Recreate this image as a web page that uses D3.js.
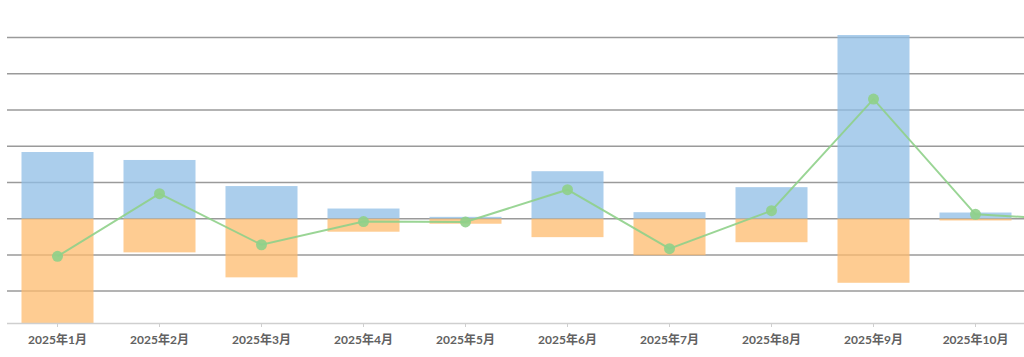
<!DOCTYPE html>
<html><head><meta charset="utf-8">
<script src="https://cdn.jsdelivr.net/npm/d3@7"></script>
<style>html,body{margin:0;padding:0;background:#fff;overflow:hidden}</style>
</head><body>
<svg id="c" width="1024" height="357"></svg>
<script>
const categories = ["2025年1月","2025年2月","2025年3月","2025年4月","2025年5月","2025年6月","2025年7月","2025年8月","2025年9月","2025年10月","2025年11月"];
const visibleLabels = ["2025年1月","2025年2月","2025年3月","2025年4月","2025年5月","2025年6月","2025年7月","2025年8月","2025年9月","2025年10月"];
const positiveValues = [184, 162, 90, 28, 5, 131, 18, 87, 507, 17, 3];
const negativeValues = [-288, -93, -162, -36, -14, -51, -101, -65, -177, -5, -7];
const netValues = [-104, 69, -72, -8, -9, 80, -83, 22, 330, 12, -4];
const yTicks = [-200, -100, 0, 100, 200, 300, 400, 500];

const svg = d3.select("#c");
const x = d3.scaleBand().domain(categories).range([6.5, 6.5 + 102 * categories.length]).paddingInner(0.294).paddingOuter(0.147);
const y = d3.scaleLinear().domain([-288, 507]).range([323, 35]);

// gridlines
svg.append("g").selectAll("line").data(yTicks).join("line")
  .attr("x1", 7).attr("x2", 1024)
  .attr("y1", d => y(d)).attr("y2", d => y(d))
  .attr("stroke", "#9a9a9a").attr("stroke-width", 1.5);

// bars
svg.append("g").selectAll("rect").data(categories).join("rect")
  .attr("x", d => x(d)).attr("width", x.bandwidth())
  .attr("y", (d,i) => y(positiveValues[i])).attr("height", (d,i) => y(0) - y(positiveValues[i]))
  .attr("fill", "#8fbde6").attr("fill-opacity", 0.75);
svg.append("g").selectAll("rect").data(categories).join("rect")
  .attr("x", d => x(d)).attr("width", x.bandwidth())
  .attr("y", y(0)).attr("height", (d,i) => y(negativeValues[i]) - y(0))
  .attr("fill", "#fdbb6e").attr("fill-opacity", 0.75);

// x axis
const xAxis = d3.axisBottom(x).tickValues(visibleLabels).tickSize(4).tickSizeOuter(0);
const ax = svg.append("g").attr("transform", "translate(0,323)").call(xAxis);
ax.select(".domain").attr("stroke", "#cfcfcf").attr("stroke-width", 1.5);
ax.selectAll(".tick line").attr("stroke", "#cfcfcf");
ax.selectAll(".tick text").attr("dy", "1.15em")
  .attr("fill", "#616161").style("font-family", "Lato, 'Noto Sans CJK SC', sans-serif")
  .style("font-size", "12px").style("font-weight", "bold");

// line
const cx = d => x(d) + x.bandwidth() / 2;
const line = d3.line().x((d,i) => cx(categories[i])).y(d => y(d));
svg.append("path").datum(netValues).attr("d", line)
  .attr("fill", "none").attr("stroke", "#8fd08a").attr("stroke-width", 2).attr("stroke-opacity", 0.9);
svg.append("g").selectAll("circle").data(netValues).join("circle")
  .attr("cx", (d,i) => cx(categories[i])).attr("cy", d => y(d)).attr("r", 5.5)
  .attr("fill", "#8fd08a").attr("fill-opacity", 0.9);
</script>
</body></html>
